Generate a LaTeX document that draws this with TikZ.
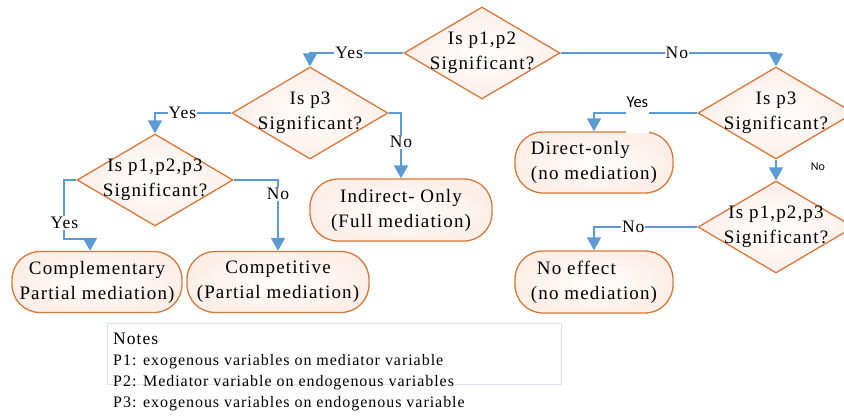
\documentclass[tikz,border=0pt]{standalone}
\usepackage{fontspec}
\setmainfont{Liberation Serif}[LetterSpace=6]
\newfontfamily\calibri{Carlito}
\usetikzlibrary{shapes.geometric,arrows.meta}

\definecolor{flowblue}{RGB}{91,155,213}
\definecolor{edgeorange}{RGB}{217,119,57}
\definecolor{peach}{RGB}{252,238,232}
\definecolor{notegray}{RGB}{218,227,240}

\tikzset{
  decision/.style={diamond, aspect=1.7, draw=edgeorange, line width=1.3pt,
    inner color=white, outer color=peach, inner sep=-12pt,
    minimum width=156pt, minimum height=92pt, align=center,
    font=\fontsize{19}{25}\selectfont},
  outcome/.style={rectangle, rounded corners=28pt, draw=edgeorange, line width=1.3pt,
    inner color=white, outer color=peach, inner sep=0pt,
    minimum width=158pt, minimum height=61pt,
    font=\fontsize{19}{25}\selectfont},
  flow/.style={draw=flowblue, line width=1.8pt, -{Triangle[width=14pt,length=13pt]}},
  yesno/.style={fill=white, inner xsep=1pt, inner ysep=1pt,
    font=\fontsize{17.5}{20}\selectfont},
  sansyes/.style={fill=white, inner xsep=1pt, inner ysep=0pt,
    font=\calibri\fontsize{16.5}{18}\selectfont, text height=14pt, text depth=25pt},
  sansno/.style={inner sep=0pt, font=\calibri\fontsize{12}{14}\selectfont},
  notebox/.style={draw=notegray, line width=1pt, minimum width=454pt, minimum height=61pt}
}

\begin{document}
\begin{tikzpicture}[x=1pt,y=-1pt]
\clip (0,0) rectangle (844,416);

% questions
\node[decision] (q1) at (482,53) {Is p1,p2\\Significant?};
\node[decision] (q2) at (310,113) {Is p3\\Significant?};
\node[decision] (q3) at (155,180) {Is p1,p2,p3\\Significant?};
\node[decision] (q4) at (776,113) {Is p3\\Significant?};
\node[decision] (q5) at (776,227) {Is p1,p2,p3\\Significant?};

% outcomes
\node[outcome, minimum width=170pt, align=center] (comp) at (97,282) {Complementary\\Partial mediation)\hspace{10pt}};
\node[outcome, minimum width=182pt, align=center] (compet) at (278,282) {Competitive\\(Partial mediation)};
\node[outcome, minimum width=182pt, minimum height=62pt, align=center] (indirect) at (401,210) {Indirect- Only\\(Full mediation)};
\node[outcome, align=left] (direct) at (594,162.5) {Direct-only\\(no mediation)};
\node[outcome, minimum height=62pt, align=left] (noeffect) at (594,282) {\hspace{6pt}No effect\\(no mediation)};

% connectors
\coordinate (c1) at (90,239);
\draw[flow] (q1.west) -| node[yesno, pos=0.29] (yes1) {Yes} (q2.north);
\draw[flow] (q1.east) -| node[yesno, pos=0.27] (no1) {No} (q4.north);
\draw[flow] (q2.west) -| node[yesno, pos=0.32] (yes2) {Yes} (q3.north);
\draw[flow] (q2.east) -| node[yesno, pos=0.72] (no2) {No} (indirect.north);
\draw[flow] (q3.west) -- ++(-12,0) |- node[yesno, pos=0.365] (yes3) {Yes} (c1) -- (c1 |- comp.north);
\draw[flow] (q3.east) -| node[yesno, pos=0.6] (no3) {No} (compet.north);
\draw[flow] (q4.west) -| node[sansyes, pos=0.29] (yes4) {Yes} (direct.north);
\draw[flow] (q4.south) -- node[sansno, xshift=42pt, yshift=3pt] (no4) {No} (q5.north);
\draw[flow] (q5.west) -| node[yesno, pos=0.31] (no5) {No} (noeffect.north);

% notes
\node[notebox] (notebox) at (334,353.5) {};
\node[anchor=north west, align=left, inner sep=0pt, font=\fontsize{16}{21}\selectfont] (notes) at (113,333)
  {{\fontsize{17.5}{21}\selectfont Notes}\\
   P1: exogenous variables on mediator variable\\
   P2: Mediator variable on endogenous variables\\
   P3: exogenous variables on endogenous variable};
\end{tikzpicture}
\end{document}
